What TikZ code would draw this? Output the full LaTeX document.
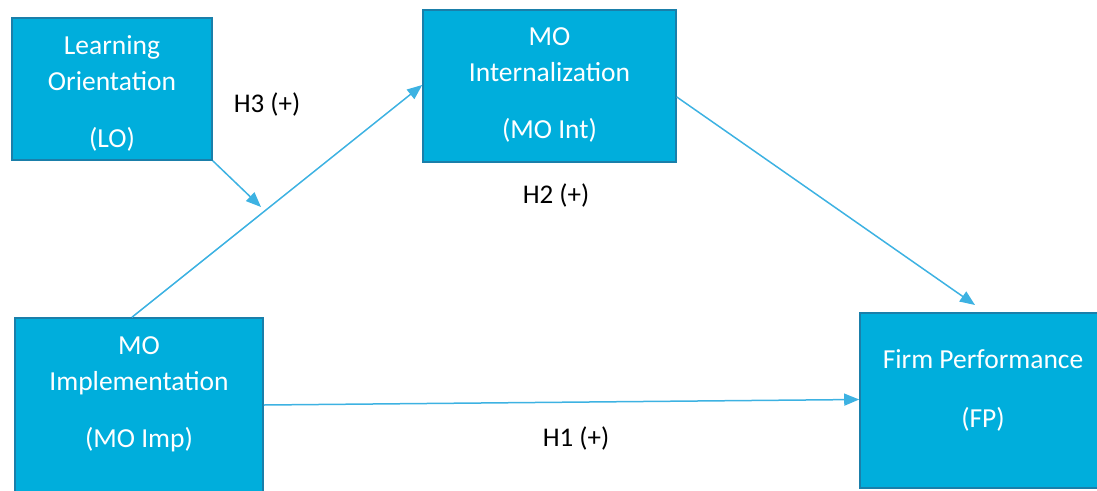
\documentclass[tikz,border=0pt]{standalone}
\usepackage{fontspec}
\setmainfont{Carlito}
\usetikzlibrary{arrows.meta}
\definecolor{boxfill}{HTML}{00AEDC}
\definecolor{boxdraw}{HTML}{1A7FAA}
\definecolor{arrowc}{HTML}{3DB2E2}
\tikzset{
  box/.style={draw=boxdraw, fill=boxfill, line width=1.6pt, inner sep=0pt},
  boxtext/.style={text=white, align=center, font=\fontsize{27.5}{36}\selectfont, inner sep=0pt},
  hyp/.style={text=black, font=\fontsize{27}{30}\selectfont, inner sep=0pt},
  link/.style={draw=arrowc, line width=1.5pt, -{Triangle[length=15pt,width=12pt]}}
}
\begin{document}
\begin{tikzpicture}[x=1pt,y=-1pt]
\useasboundingbox (0,0) rectangle (1097,490);
\clip (0,0) rectangle (1097,490);
% boxes
\node[box, minimum width=200pt, minimum height=142pt] (lo) at (112,89) {};
\node[box, minimum width=253pt, minimum height=152pt] (int) at (549.5,86) {};
\node[box, minimum width=248pt, minimum height=200pt] (imp) at (139,418) {};
\node[box, minimum width=300pt, minimum height=175pt] (fp) at (1010,400.5) {};
% texts
\node[boxtext] (lot) at (112,93) {Learning\\Orientation\\[21pt](LO)};
\node[boxtext] (intt) at (549.5,85) {MO\\Internalization\\[21pt](MO Int)};
\node[boxtext] (impt) at (139,394.5) {MO\\Implementation\\[21pt](MO Imp)};
\node[boxtext] (fpt) at (983,390) {Firm Performance\\[23pt](FP)};
% hypothesis labels
\node[hyp] (h3) at (267,104) {H3 (+)};
\node[hyp] (h2) at (556,195) {H2 (+)};
\node[hyp] (h1) at (576,438) {H1 (+)};
% connectors
\coordinate (mod) at (261,207);
\coordinate (fptop) at (975,305);
\draw[link] ([xshift=-7pt]imp.north) -- ([yshift=1pt]int.west);
\draw[link] (lo.south east) -- (mod);
\draw[link] ([yshift=-11pt]int.east) -- (fptop);
\draw[link] ([yshift=13pt]imp.east) -- ([yshift=1pt]fp.west);
\end{tikzpicture}
\end{document}
